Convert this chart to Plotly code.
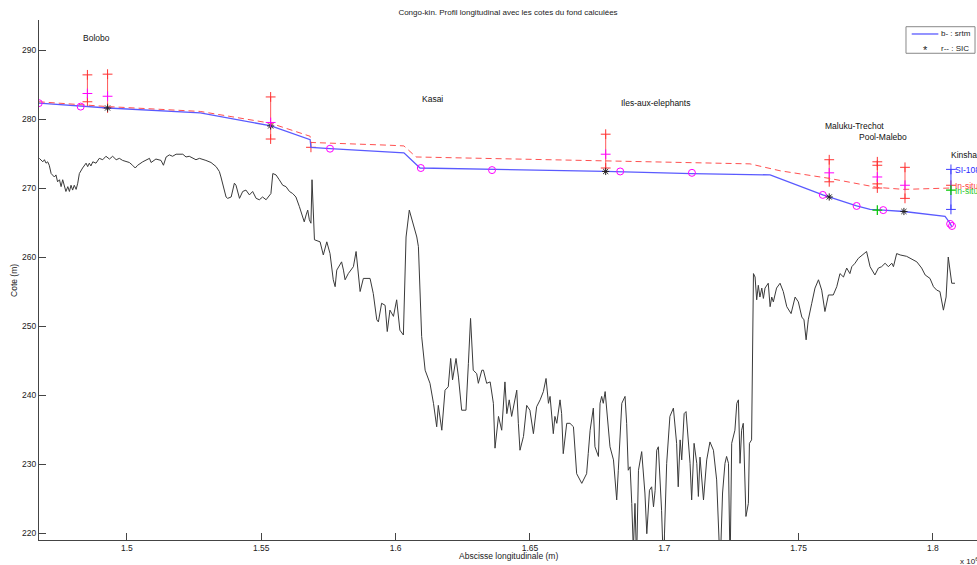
import plotly.graph_objects as go

# ---------------- data (x in km along the river, z in m) ----------------
bed_km = [1467.4, 1468.7, 1469.3, 1469.9, 1470.5, 1471.1, 1471.8, 1473.0, 1473.6, 1474.2,
          1474.9, 1475.5, 1476.1, 1476.7, 1477.3, 1478.0, 1478.6, 1479.2, 1479.8, 1480.4,
          1481.1, 1481.7, 1482.3, 1483.5, 1484.8, 1485.4, 1486.0, 1486.6, 1487.3, 1488.5,
          1489.7, 1491.0, 1492.2, 1493.5, 1494.7, 1496.0, 1497.2, 1498.4, 1500.9, 1502.1,
          1503.1, 1504.0, 1505.9, 1508.4, 1509.0, 1510.8, 1512.7, 1513.6, 1514.6, 1515.8,
          1517.0, 1518.3, 1520.8, 1522.0, 1523.2, 1525.7, 1527.0, 1529.4, 1531.3, 1533.2,
          1534.4, 1535.0, 1535.6, 1536.9, 1537.5, 1538.8, 1540.0, 1540.6, 1541.9, 1543.1,
          1544.3, 1545.6, 1546.8, 1548.1, 1549.3, 1550.5, 1551.8, 1553.0, 1553.6, 1554.3,
          1555.5, 1556.7, 1558.0, 1559.2, 1560.5, 1561.7, 1562.9, 1564.2, 1565.4, 1566.0,
          1566.7, 1567.3, 1567.9, 1568.5, 1568.9, 1569.2, 1569.8,
          1571.9, 1573.1, 1574.4, 1575.6, 1576.8, 1577.5, 1578.1, 1579.9, 1580.6, 1581.2,
          1582.4, 1584.3, 1585.3, 1586.1, 1586.8, 1588.0, 1590.5, 1591.7, 1593.0, 1593.6,
          1594.8, 1596.1, 1596.9, 1597.9, 1599.2, 1600.4, 1601.6, 1602.9, 1603.9, 1605.1,
          1606.6, 1607.9, 1608.5, 1609.7, 1611.0, 1612.8, 1614.1, 1615.3, 1615.9, 1617.2,
          1618.4, 1619.6, 1620.5, 1621.2, 1622.5, 1623.4, 1624.6, 1626.2, 1627.1, 1627.9,
          1628.9, 1630.2, 1630.8, 1632.1, 1632.7, 1633.9, 1635.2, 1636.4, 1637.0, 1638.3,
          1639.5, 1640.7, 1641.4, 1642.3, 1643.2, 1643.8, 1645.1, 1645.7, 1646.3, 1647.6,
          1648.8, 1650.0, 1651.3, 1652.5, 1653.8, 1655.0, 1656.0, 1656.9, 1657.5, 1658.7,
          1659.3, 1660.0, 1661.2, 1661.8, 1662.4, 1663.7, 1664.9, 1666.2, 1667.4, 1669.3,
          1671.1, 1671.7, 1672.4, 1673.6, 1674.2, 1675.5, 1676.1, 1676.7, 1677.3, 1678.0,
          1678.6, 1679.8, 1681.1, 1682.3, 1682.9, 1684.2, 1685.4, 1686.0, 1686.6, 1687.3,
          1687.9, 1688.5, 1689.1, 1689.7,
          1690.4, 1691.6, 1692.8, 1693.5, 1694.5, 1695.3, 1696.0, 1696.6, 1697.2, 1697.8,
          1699.0, 1699.7, 1700.9, 1702.1, 1703.4, 1704.6, 1705.2, 1705.9, 1706.5, 1707.4,
          1708.1, 1709.0, 1709.6, 1710.2, 1711.1, 1712.1, 1712.7, 1713.3, 1714.6, 1715.8,
          1717.0, 1718.3, 1719.5, 1720.8, 1721.7, 1722.6, 1723.2, 1723.9, 1724.5, 1725.1,
          1725.7, 1726.3, 1727.0, 1727.6, 1728.2, 1728.8, 1729.4, 1730.4, 1731.3, 1731.7,
          1732.5, 1732.9, 1733.2, 1733.8, 1734.4, 1735.0, 1735.6, 1736.3, 1736.9, 1737.5,
          1738.7, 1739.4, 1740.0, 1740.6, 1741.8, 1743.1, 1744.3, 1745.6, 1747.2, 1748.7,
          1749.9, 1751.2, 1752.0, 1752.8, 1753.6, 1754.9, 1756.1, 1757.4, 1758.6, 1759.8,
          1761.1, 1762.9, 1764.2, 1765.4, 1766.7, 1767.9, 1769.1, 1769.8, 1771.0, 1772.2,
          1774.1, 1775.3, 1776.6, 1778.4, 1779.7, 1780.9, 1782.2, 1783.4, 1784.7, 1785.3,
          1786.5, 1787.8, 1790.2, 1794.0, 1795.8, 1797.1, 1798.9, 1800.2, 1801.4, 1802.6,
          1803.9, 1804.9, 1805.7, 1806.4, 1807.0, 1808.2]
bed_z = [274.3, 273.8, 274.1, 273.6, 273.8, 273.3, 272.1, 271.6, 271.9, 270.9,
         271.2, 270.2, 271.2, 270.4, 269.5, 270.2, 269.5, 270.4, 269.7, 270.4,
         269.8, 270.7, 272.1, 272.9, 273.6, 273.1, 273.6, 273.2, 273.8, 273.6,
         274.3, 274.1, 274.6, 274.2, 274.6, 274.1, 274.3, 274.0, 273.7, 273.3,
         272.9, 273.3, 273.8, 274.3, 273.7, 274.2, 274.0, 273.3, 274.5, 274.8,
         274.6, 274.9, 274.9, 274.5, 274.6, 274.1, 274.3, 274.0, 273.7, 273.1,
         272.4, 271.6, 270.7, 268.7, 268.5, 268.7, 270.7, 270.4, 268.5, 269.5,
         269.7, 269.0, 269.5, 268.5, 268.3, 268.7, 268.3, 269.0, 269.2, 272.1,
         271.9, 271.2, 270.4, 270.2, 269.5, 269.2, 268.7, 267.3, 265.8, 265.1,
         266.1, 266.8, 265.4, 264.9, 271.2, 267.3, 262.5,
         262.2, 260.3, 262.2, 260.5, 256.7, 255.7, 258.1, 259.3, 258.1, 256.7,
         257.6, 258.6, 260.8, 258.1, 255.0, 256.9, 256.9, 254.7, 250.9, 250.6,
         253.3, 253.0, 249.2, 252.3, 251.4, 253.8, 249.4, 248.7, 262.9, 266.8,
         264.9, 262.9, 261.5, 248.5, 243.6, 241.7, 238.8, 235.4, 238.5, 234.9,
         240.7, 241.2, 245.3, 242.2, 245.3, 242.6, 237.8, 237.8, 244.6, 251.1,
         243.6, 243.1, 241.7, 243.6, 243.6, 241.7, 241.9, 238.8, 232.3, 236.9,
         234.9, 241.9, 237.3, 239.3, 236.9, 238.3, 240.7, 235.9, 232.0, 234.0,
         238.5, 237.8, 234.4, 238.3, 239.3, 240.5, 242.4, 238.8, 239.8, 234.4,
         236.9, 235.9, 239.3, 237.3, 231.5, 235.9, 235.9, 235.4, 228.6, 227.2,
         228.6, 231.5, 234.9, 238.1, 232.5, 231.1, 238.8, 239.8, 238.8, 240.5,
         237.8, 232.5, 230.6, 224.8, 229.1, 238.8, 239.8, 235.9, 229.1, 229.6,
         224.3, 217.5, 224.3, 216.0,
         229.1, 231.8, 225.8, 219.9, 226.2, 226.7, 223.8, 226.2, 232.0, 232.5,
         223.3, 215.0, 230.1, 236.9, 238.1, 233.0, 226.7, 233.5, 230.6, 237.3,
         237.6, 233.0, 230.1, 224.8, 233.0, 230.1, 225.3, 231.0, 224.8, 230.6,
         233.2, 232.0, 227.7, 215.0, 225.8, 230.1, 231.1, 230.1, 215.0, 233.0,
         234.0, 234.9, 238.8, 239.3, 230.1, 234.9, 235.9, 222.4, 224.3, 233.0,
         233.5, 251.3, 257.6, 257.1, 253.8, 255.9, 254.2, 255.5, 254.0, 255.5,
         256.2, 252.8, 254.2, 253.5, 255.5, 256.2, 255.0, 252.8, 251.8, 254.2,
         253.5, 251.3, 250.9, 248.0, 250.9, 253.3, 255.5, 256.7, 255.2, 252.1,
         254.5, 254.5, 255.7, 257.6, 257.1, 258.4, 257.6, 258.6, 259.1, 259.8,
         260.5, 260.8, 258.6, 257.4, 258.4, 258.6, 259.1, 258.6, 259.1, 258.6,
         260.5, 260.3, 260.1, 259.3, 258.4, 257.4, 256.9, 255.7, 255.2, 255.0,
         252.3, 254.2, 260.0, 257.6, 256.2, 256.2]

srtm_km = [1467.2, 1493.0, 1527.3, 1553.6, 1568.2, 1568.5, 1575.6, 1597.9, 1603.1, 1609.1,
           1661.2, 1678.0, 1710.3, 1731.9, 1739.4, 1759.0, 1761.4, 1771.6, 1776.6, 1779.3,
           1781.5, 1789.2, 1804.5, 1806.4, 1807.0]
srtm_z = [282.3, 281.6, 280.9, 279.0, 277.0, 275.9, 275.7, 275.3, 275.1, 272.9,
          272.6, 272.4, 272.1, 272.0, 271.9, 269.0, 268.7, 267.4, 266.9, 266.8,
          266.8, 266.6, 265.9, 264.9, 264.4]

sic_km = [1467.2, 1493.0, 1527.3, 1553.4, 1568.2, 1568.5, 1597.9, 1603.1, 1607.6, 1672.4,
          1710.3, 1731.9, 1743.1, 1761.4, 1779.1, 1789.2, 1806.4]
sic_z = [282.5, 281.8, 281.1, 279.4, 277.5, 276.6, 276.2, 276.1, 274.5, 274.0,
         273.7, 273.5, 272.5, 271.4, 270.1, 269.8, 270.0]

circ_km = [1467.2, 1482.8, 1575.6, 1609.4, 1635.9, 1683.6, 1710.3, 1759.0, 1771.6, 1781.5,
           1806.4, 1807.1]
circ_z = [282.3, 281.8, 275.7, 272.9, 272.6, 272.4, 272.2, 269.0, 267.4, 266.8,
          264.8, 264.5]

star_km = [1492.8, 1553.5, 1678.2, 1761.4, 1789.2]
star_z = [281.6, 279.0, 272.4, 268.7, 266.6]

bar_km = [1485.3, 1492.8, 1553.5, 1678.2, 1761.4, 1779.3, 1789.6]
bar_top = [286.4, 286.5, 283.2, 277.8, 274.1, 273.8, 273.0]
bar_bot = [282.5, 281.6, 277.1, 272.9, 270.9, 270.0, 268.5]
bar_mid = [283.7, 283.3, 279.5, 274.9, 272.2, 271.6, 270.4]

extra_red_km = [1779.3, 1779.3, 1568.5, 1806.7]
extra_red_z = [273.3, 270.6, 275.9, 270.4]

si_km = 1806.7
si_top, si_bot = 272.7, 266.9

green_km = [1779.3, 1806.7]
green_z = [266.8, 269.7]

labels = ["Bolobo", "Kasai", "Iles-aux-elephants", "Maluku-Trechot", "Pool-Malebo", "Kinshasa"]
label_km = [1483.0, 1609.1, 1683.3, 1759.0, 1771.8, 1806.0]
label_z = [291.7, 282.9, 282.3, 279.0, 277.4, 274.8]

legend_names = ["b- : srtm", "r-- : SIC"]

x_ticks = [1.5, 1.55, 1.6, 1.65, 1.7, 1.75, 1.8]
y_ticks = [220, 230, 240, 250, 260, 270, 280, 290]

M = 1000.0  # km -> m
FONT = "Liberation Sans, Arial, sans-serif"

fig = go.Figure()

# bed profile
fig.add_trace(go.Scatter(x=[v * M for v in bed_km], y=bed_z, mode="lines",
                         line=dict(color="#3a3a3a", width=1), showlegend=False))

# error bars (red, + ends)
ex, ey = [], []
for k, t, b in zip(bar_km, bar_top, bar_bot):
    ex += [k * M, k * M, None]
    ey += [t, b, None]
RED = "rgb(255,50,50)"
fig.add_trace(go.Scatter(x=ex, y=ey, mode="lines+markers",
                         line=dict(color="rgba(255,60,60,0.85)", width=1),
                         marker=dict(symbol="cross-thin", size=7, color=RED,
                                     line=dict(color=RED, width=1)),
                         showlegend=False))
fig.add_trace(go.Scatter(x=[k * M for k in extra_red_km], y=extra_red_z, mode="markers",
                         marker=dict(symbol="cross-thin", size=7, color=RED,
                                     line=dict(color=RED, width=1)),
                         showlegend=False))

# SRTM line (blue)
BLUE_LINE = "rgb(90,90,255)"
fig.add_trace(go.Scatter(x=[v * M for v in srtm_km], y=srtm_z, mode="lines",
                         line=dict(color=BLUE_LINE, width=1.3), showlegend=False))
# black stars
fig.add_trace(go.Scatter(x=[v * M for v in star_km], y=star_z, mode="markers",
                         marker=dict(symbol="asterisk-open", size=6, color="#222",
                                     line=dict(color="#222", width=1)),
                         showlegend=False))
# SIC dashed line
fig.add_trace(go.Scatter(x=[v * M for v in sic_km], y=sic_z, mode="lines",
                         line=dict(color="rgb(255,80,80)", width=1, dash="6px,4px"),
                         showlegend=False))
# magenta mid markers of bars
MAG = "rgb(255,0,255)"
fig.add_trace(go.Scatter(x=[k * M for k in bar_km], y=bar_mid, mode="markers",
                         marker=dict(symbol="cross-thin", size=7, color=MAG,
                                     line=dict(color=MAG, width=1)),
                         showlegend=False))
# magenta circles
fig.add_trace(go.Scatter(x=[v * M for v in circ_km], y=circ_z, mode="markers",
                         marker=dict(symbol="circle-open", size=7, color=MAG,
                                     line=dict(color=MAG, width=1)),
                         showlegend=False))
# blue SI-1080 bar
BLU = "rgb(60,60,255)"
fig.add_trace(go.Scatter(x=[si_km * M, si_km * M], y=[si_top, si_bot], mode="lines+markers",
                         line=dict(color=BLU, width=1),
                         marker=dict(symbol="cross-thin", size=7, color=BLU,
                                     line=dict(color=BLU, width=1)),
                         showlegend=False))
# green markers
GRN = "rgb(0,200,0)"
fig.add_trace(go.Scatter(x=[v * M for v in green_km], y=green_z, mode="markers",
                         marker=dict(symbol="cross-thin", size=7, color=GRN,
                                     line=dict(color=GRN, width=1.2)),
                         showlegend=False))

ann = []
for t, k, z in zip(labels, label_km, label_z):
    ann.append(dict(x=k * M, y=z, text=t, showarrow=False, xanchor="left", yanchor="middle",
                    font=dict(size=8.5, color="#111", family=FONT)))
ann.append(dict(x=1807.3 * M, y=272.6, text="SI-1080", showarrow=False, xanchor="left",
                yanchor="middle", font=dict(size=8.5, color="rgb(40,40,255)", family=FONT)))
ann.append(dict(x=1807.3 * M, y=270.3, text="In-situ", showarrow=False, xanchor="left",
                yanchor="middle", font=dict(size=8.5, color="rgb(255,60,60)", family=FONT)))
ann.append(dict(x=1807.3 * M, y=269.6, text="In-situ", showarrow=False, xanchor="left",
                yanchor="middle", font=dict(size=8.5, color="rgb(40,200,40)", family=FONT)))
# axis titles
ann.append(dict(xref="paper", yref="paper", x=0.5, y=-0.031, text="Abscisse longitudinale (m)",
                showarrow=False, xanchor="center", yanchor="middle",
                font=dict(size=8.5, color="#222", family=FONT)))
ann.append(dict(xref="paper", yref="paper", x=-0.0267, y=0.5, text="Cote (m)", textangle=-90,
                showarrow=False, xanchor="center", yanchor="middle",
                font=dict(size=8.5, color="#222", family=FONT)))
ann.append(dict(xref="paper", yref="paper", x=0.992, y=-0.040, text="x 10<sup>6</sup>",
                showarrow=False, xanchor="center", yanchor="middle",
                font=dict(size=8, color="#222", family=FONT)))
# legend (drawn compactly, like the MATLAB one)
ann.append(dict(xref="paper", yref="paper", x=0.9598, y=0.9731, text=legend_names[0],
                showarrow=False, xanchor="left", yanchor="middle",
                font=dict(size=8, color="#222", family=FONT)))
ann.append(dict(xref="paper", yref="paper", x=0.9598, y=0.9448, text=legend_names[1],
                showarrow=False, xanchor="left", yanchor="middle",
                font=dict(size=8, color="#222", family=FONT)))
ann.append(dict(xref="paper", yref="paper", x=0.9446, y=0.9420, text="*",
                showarrow=False, xanchor="center", yanchor="middle",
                font=dict(size=11, color="#222", family=FONT)))

shapes = [
    dict(type="rect", xref="paper", yref="paper", x0=0.9243, x1=0.9979, y0=0.936, y1=0.9871,
         line=dict(color="#888", width=1), fillcolor="white", layer="above"),
    dict(type="line", xref="paper", yref="paper", x0=0.9304, x1=0.9588, y0=0.9731, y1=0.9731,
         line=dict(color=BLUE_LINE, width=1.3), layer="above"),
]

fig.update_layout(
    width=977, height=565,
    margin=dict(l=39, r=0, t=20, b=25, autoexpand=False),
    paper_bgcolor="white", plot_bgcolor="white",
    title=dict(text="Congo-kin. Profil longitudinal avec les cotes du fond calculées",
               x=0.5, xref="paper", y=1 - 12 / 565, yref="container", yanchor="middle",
               font=dict(size=8, color="#222", family=FONT)),
    font=dict(family=FONT, size=8.5, color="#222"),
    annotations=ann,
    shapes=shapes,
    showlegend=False,
)
fig.update_xaxes(range=[1467.28 * M, 1816.4 * M], tickvals=[v * 1e6 for v in x_ticks],
                 ticktext=[str(v) for v in x_ticks], ticks="inside", ticklen=7,
                 tickcolor="#444", showline=True, linecolor="#444", linewidth=1,
                 showgrid=False, zeroline=False, automargin=False,
                 tickfont=dict(size=8.5, color="#222"))
fig.update_yaxes(range=[218.99, 294.35], tickvals=y_ticks, ticks="inside", ticklen=7,
                 tickcolor="#444", showline=True, linecolor="#444", linewidth=1,
                 showgrid=False, zeroline=False, automargin=False,
                 tickfont=dict(size=8.5, color="#222"))

# remove the default 8px page margin so the figure fills the window exactly
fig.write_html("out.html", config={"displayModeBar": False},
               post_script="document.body.style.margin='0';document.body.style.overflow='hidden';")
